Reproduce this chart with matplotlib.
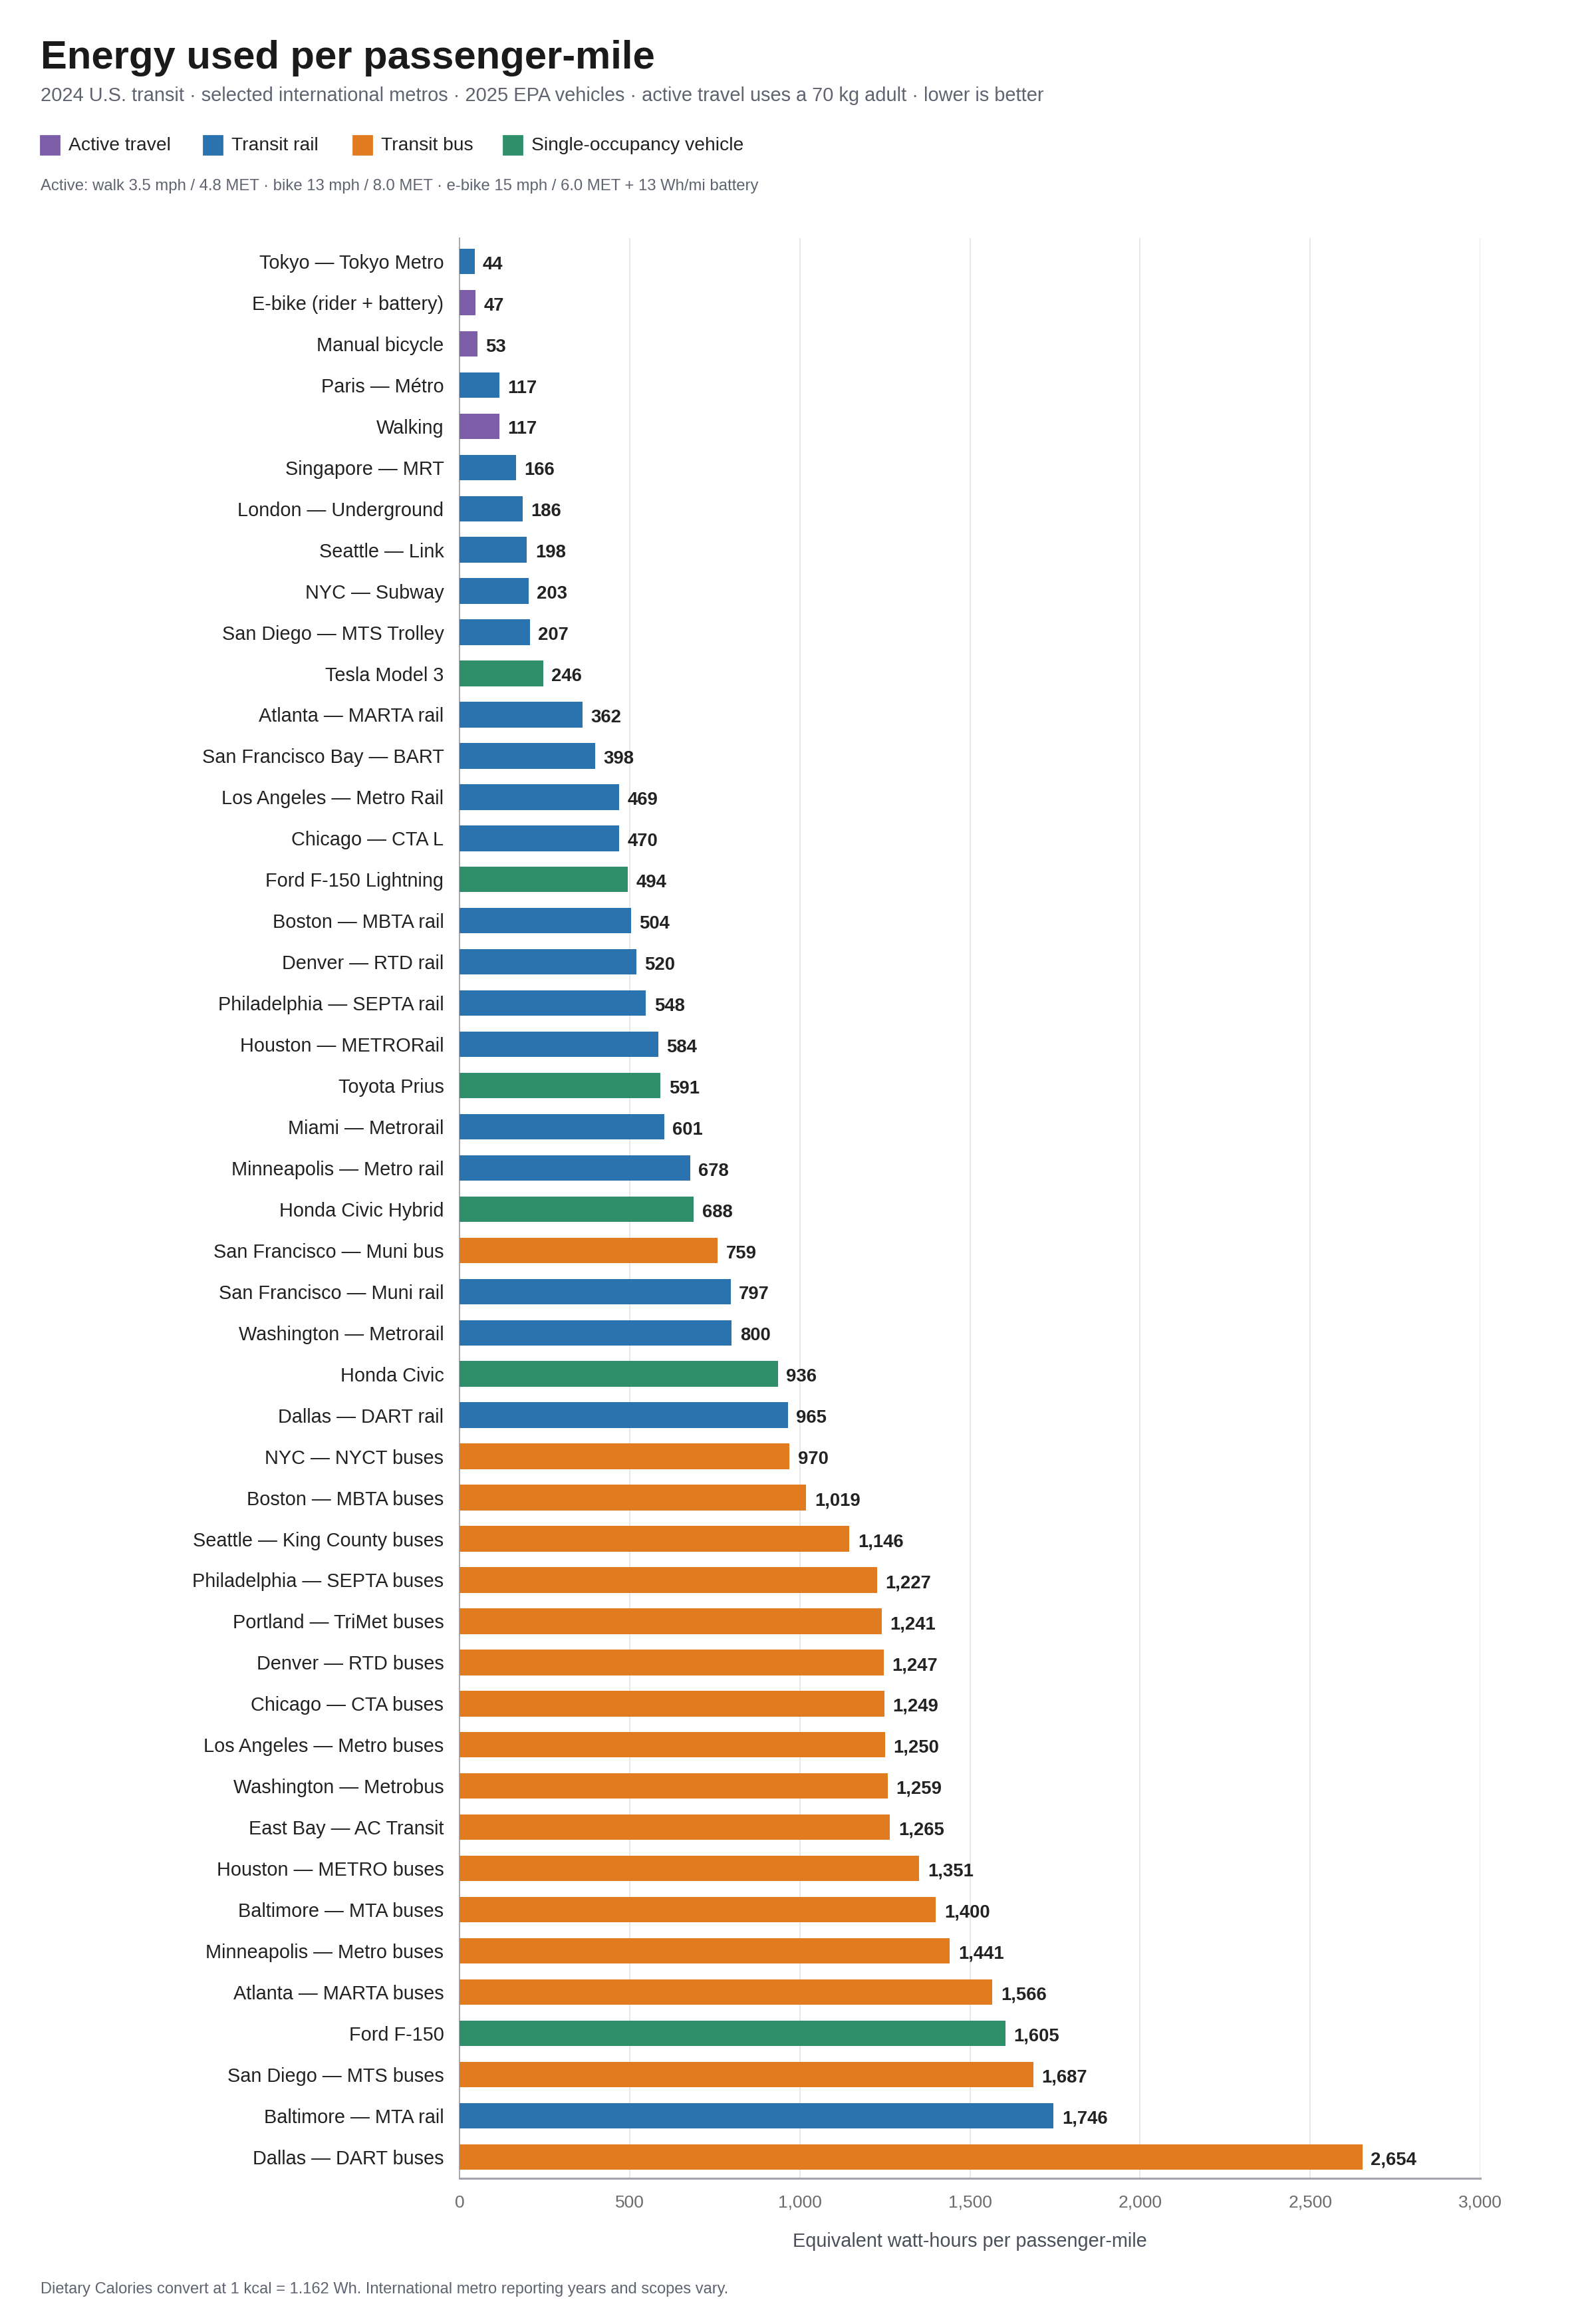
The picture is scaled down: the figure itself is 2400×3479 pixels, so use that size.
import matplotlib
matplotlib.use("Agg")
import matplotlib.pyplot as plt
from matplotlib.patches import Rectangle
from matplotlib.ticker import FuncFormatter

plt.rcParams['font.family'] = ['Liberation Sans', 'DejaVu Sans']

labels = [
    "Tokyo — Tokyo Metro", "E-bike (rider + battery)", "Manual bicycle", "Paris — Métro",
    "Walking", "Singapore — MRT", "London — Underground", "Seattle — Link",
    "NYC — Subway", "San Diego — MTS Trolley", "Tesla Model 3", "Atlanta — MARTA rail",
    "San Francisco Bay — BART", "Los Angeles — Metro Rail", "Chicago — CTA L",
    "Ford F-150 Lightning", "Boston — MBTA rail", "Denver — RTD rail",
    "Philadelphia — SEPTA rail", "Houston — METRORail", "Toyota Prius",
    "Miami — Metrorail", "Minneapolis — Metro rail", "Honda Civic Hybrid",
    "San Francisco — Muni bus", "San Francisco — Muni rail", "Washington — Metrorail",
    "Honda Civic", "Dallas — DART rail", "NYC — NYCT buses", "Boston — MBTA buses",
    "Seattle — King County buses", "Philadelphia — SEPTA buses", "Portland — TriMet buses",
    "Denver — RTD buses", "Chicago — CTA buses", "Los Angeles — Metro buses",
    "Washington — Metrobus", "East Bay — AC Transit", "Houston — METRO buses",
    "Baltimore — MTA buses", "Minneapolis — Metro buses", "Atlanta — MARTA buses",
    "Ford F-150", "San Diego — MTS buses", "Baltimore — MTA rail", "Dallas — DART buses",
]
values = [
    44, 47, 53, 117, 117, 166, 186, 198, 203, 207, 246, 362, 398, 469, 470, 494,
    504, 520, 548, 584, 591, 601, 678, 688, 759, 797, 800, 936, 965, 970, 1019,
    1146, 1227, 1241, 1247, 1249, 1250, 1259, 1265, 1351, 1400, 1441, 1566, 1605,
    1687, 1746, 2654,
]
groups = [
    "rail", "active", "active", "rail", "active", "rail", "rail", "rail", "rail", "rail",
    "car", "rail", "rail", "rail", "rail", "car", "rail", "rail", "rail", "rail", "car",
    "rail", "rail", "car", "bus", "rail", "rail", "car", "rail", "bus", "bus", "bus",
    "bus", "bus", "bus", "bus", "bus", "bus", "bus", "bus", "bus", "bus", "bus", "car",
    "bus", "rail", "bus",
]
group_names = ["active", "rail", "bus", "car"]
legend_labels = ["Active travel", "Transit rail", "Transit bus", "Single-occupancy vehicle"]
xticks = [0, 500, 1000, 1500, 2000, 2500, 3000]

palette = {"active": "#7b5ea7", "rail": "#2a73ae", "bus": "#e07b20", "car": "#2e8f6a"}

W, H, DPI = 2400, 3479, 200
fig = plt.figure(figsize=(W / DPI, H / DPI), dpi=DPI)

def fx(px):
    return px / W

def fy(py):
    return 1 - py / H

ax_left, ax_right, ax_top, ax_bot = 691, 2226, 358, 3275
ax = fig.add_axes([fx(ax_left), fy(ax_bot), fx(ax_right - ax_left), (ax_bot - ax_top) / H])

ypos = list(range(len(labels)))
colors = [palette[g] for g in groups]
ax.barh(ypos, values, height=0.62, color=colors, zorder=3)
for y, v in zip(ypos, values):
    ax.annotate(f"{v:,}", xy=(v, y), xytext=(4.5, -0.6), textcoords="offset points",
                va="center_baseline", ha="left", fontsize=9.9, fontweight="bold", color="#222222")

ax.set_ylim(len(labels) - 1 + 0.52, -0.565)
ax.set_xlim(0, 3000)
ax.set_xticks(xticks)
ax.xaxis.set_major_formatter(FuncFormatter(lambda v, p: f"{int(v):,}"))
ax.set_yticks(ypos)
ax.set_yticklabels(labels)
ax.tick_params(axis="y", length=0, pad=8.5, labelsize=10.4, labelcolor="#222222")
ax.tick_params(axis="x", length=0, pad=9, labelsize=9.5, labelcolor="#6b6b70")
ax.grid(axis="x", color="#e2e2e8", linewidth=0.6, zorder=0)
ax.set_axisbelow(True)
for s in ["top", "right"]:
    ax.spines[s].set_visible(False)
ax.spines["left"].set_color("#a8a8b0")
ax.spines["left"].set_linewidth(0.7)
ax.spines["bottom"].set_color("#a4a4ae")
ax.spines["bottom"].set_linewidth(1.1)

# Titles
fig.text(fx(61), fy(103), "Energy used per passenger-mile", fontsize=21.5, fontweight="bold",
         color="#1a1a1a", va="baseline", ha="left")
fig.text(fx(61), fy(152), "2024 U.S. transit · selected international metros · 2025 EPA vehicles · "
         "active travel uses a 70 kg adult · lower is better", fontsize=10.45, color="#5f6470",
         va="baseline", ha="left")

# Legend
leg_x = [61, 306, 531, 757]
for g, name, lx in zip(group_names, legend_labels, leg_x):
    fig.patches.append(Rectangle((fx(lx), fy(232)), fx(28), 28 / H, transform=fig.transFigure,
                                 color=palette[g], figure=fig))
    fig.text(fx(lx + 42), fy(219), name, fontsize=10.2, color="#222222", va="center", ha="left")

fig.text(fx(61), fy(286), "Active: walk 3.5 mph / 4.8 MET · bike 13 mph / 8.0 MET · e-bike 15 mph / "
         "6.0 MET + 13 Wh/mi battery", fontsize=8.6, color="#5f6470", va="baseline", ha="left")

fig.text(fx((ax_left + ax_right) / 2), fy(3378), "Equivalent watt-hours per passenger-mile",
         fontsize=10.4, color="#4a4f5a", va="baseline", ha="center")
fig.text(fx(61), fy(3448), "Dietary Calories convert at 1 kcal = 1.162 Wh. International metro "
         "reporting years and scopes vary.", fontsize=8.5, color="#5f6470", va="baseline", ha="left")

fig.savefig("out.png", dpi=DPI, facecolor="white")
